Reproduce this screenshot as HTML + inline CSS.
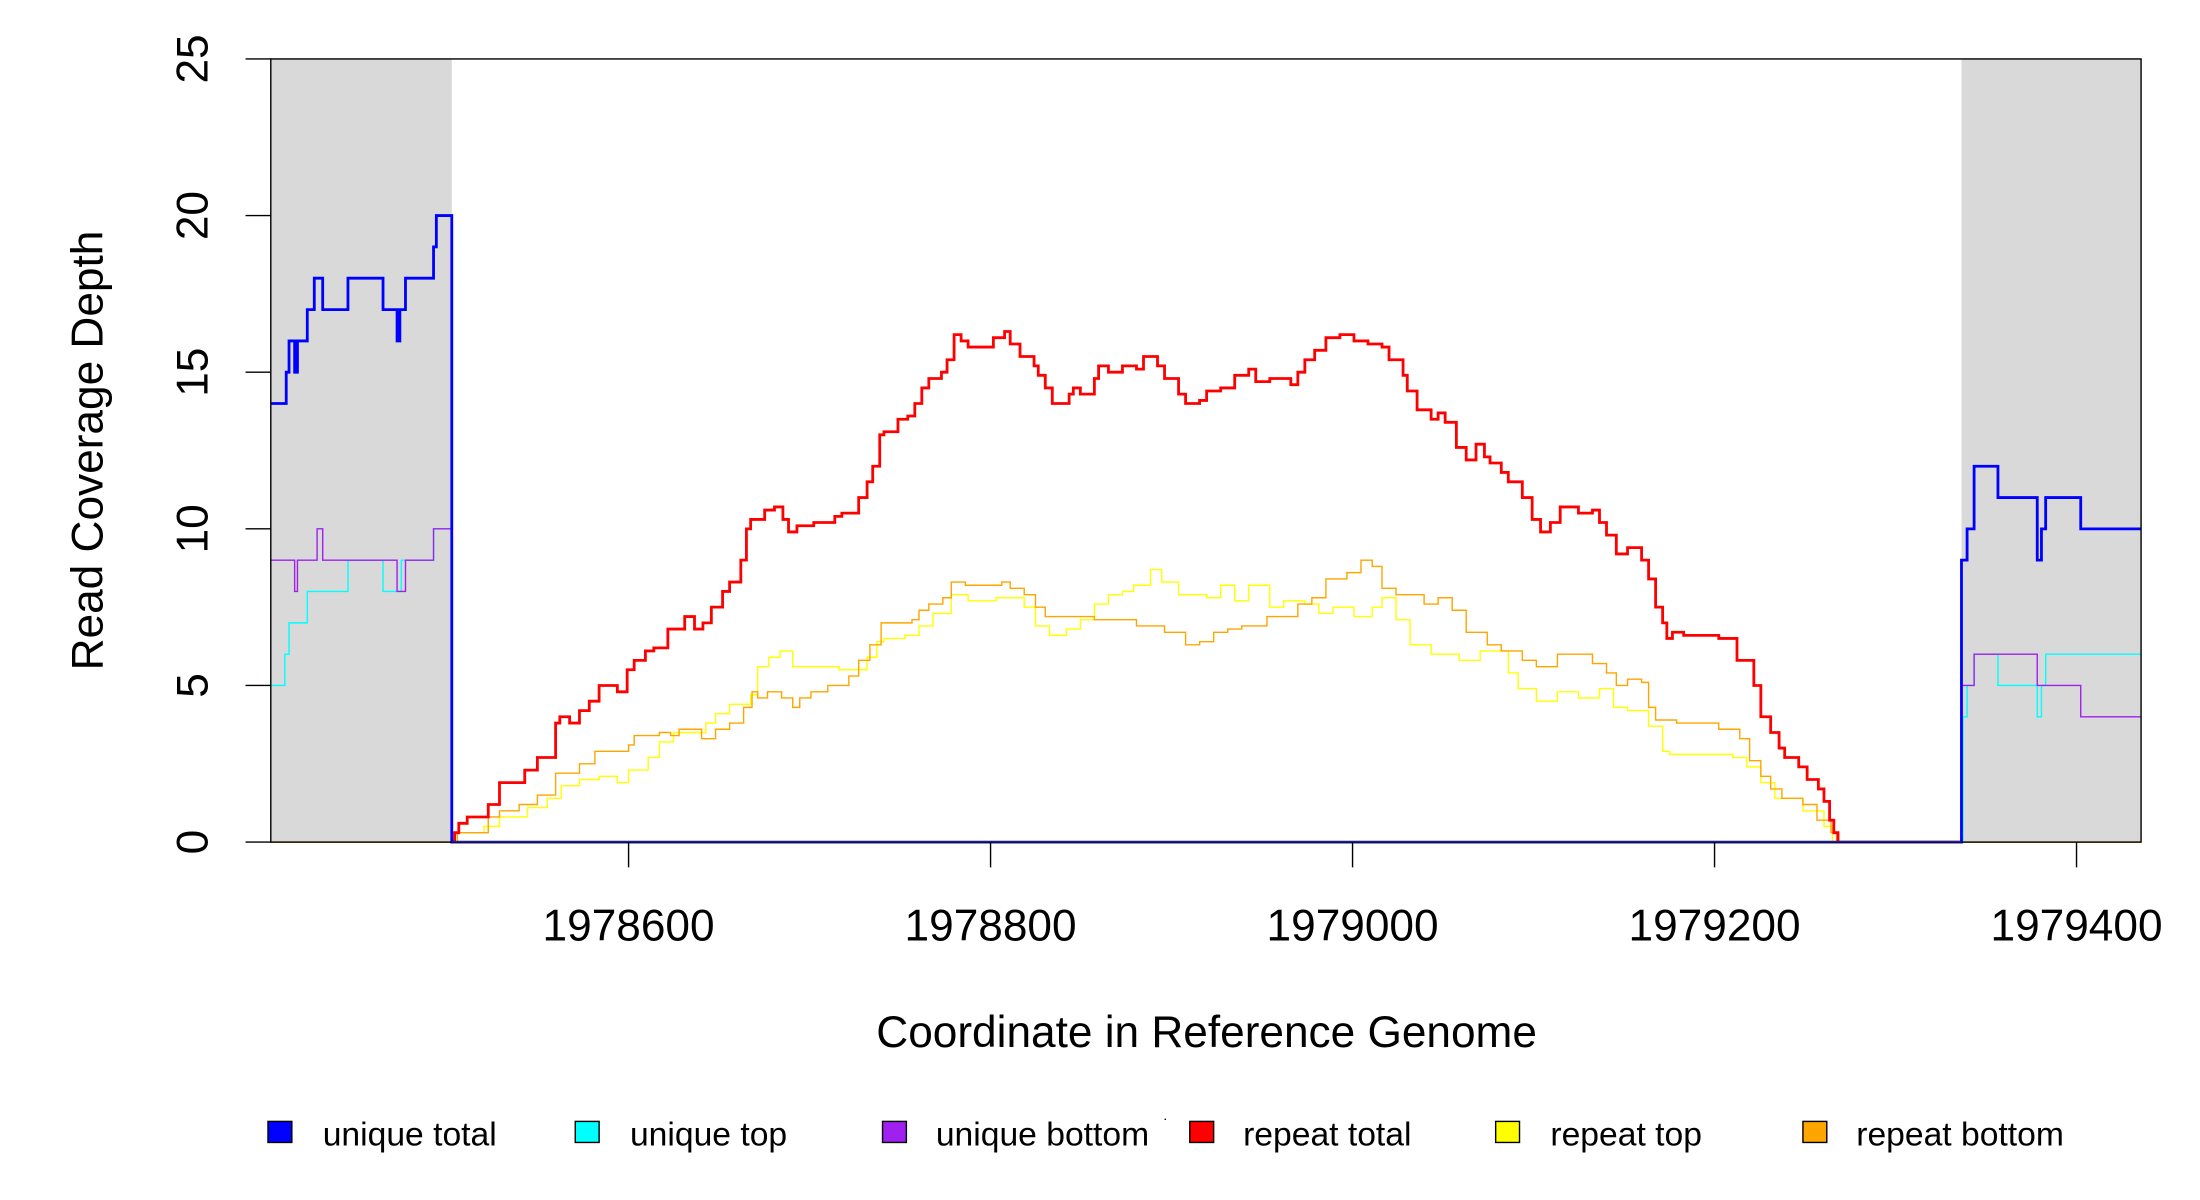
<!DOCTYPE html>
<html><head><meta charset="utf-8"><style>
html,body{margin:0;padding:0;background:#fff;}
svg{display:block;}
text{font-family:"Liberation Sans",Arial,sans-serif;fill:#000;}
</style></head><body>
<svg id="s" width="2200" height="1200" viewBox="0 0 1568 855" preserveAspectRatio="none" xmlns="http://www.w3.org/2000/svg">
<rect x="0" y="0" width="1568" height="855" fill="#fff"/>
<rect x="193" y="42" width="129" height="558" fill="#d9d9d9"/>
<rect x="1398" y="42" width="128" height="558" fill="#d9d9d9"/>
<g id="series"></g>
<rect x="193" y="42" width="1333" height="558" fill="none" stroke="#000" stroke-width="1"/>
<g stroke="#000" stroke-width="1">
<line x1="175" y1="600" x2="193" y2="600"/><line x1="175" y1="488.4" x2="193" y2="488.4"/>
<line x1="175" y1="376.8" x2="193" y2="376.8"/><line x1="175" y1="265.2" x2="193" y2="265.2"/>
<line x1="175" y1="153.6" x2="193" y2="153.6"/><line x1="175" y1="42" x2="193" y2="42"/>
<line x1="448" y1="600" x2="448" y2="618"/><line x1="706" y1="600" x2="706" y2="618"/>
<line x1="964" y1="600" x2="964" y2="618"/><line x1="1222" y1="600" x2="1222" y2="618"/>
<line x1="1480" y1="600" x2="1480" y2="618"/>
</g>
<g font-size="31.5" text-anchor="middle">
<text transform="translate(148,600) rotate(-90)">0</text>
<text transform="translate(148,488.4) rotate(-90)">5</text>
<text transform="translate(148,376.8) rotate(-90)">10</text>
<text transform="translate(148,265.2) rotate(-90)">15</text>
<text transform="translate(148,153.6) rotate(-90)">20</text>
<text transform="translate(148,42) rotate(-90)">25</text>
<text x="448" y="670">1978600</text>
<text x="706" y="670">1978800</text>
<text x="964" y="670">1979000</text>
<text x="1222" y="670">1979200</text>
<text x="1480" y="670">1979400</text>
<text x="860" y="746">Coordinate in Reference Genome</text>
<text transform="translate(73,321) rotate(-90)">Read Coverage Depth</text>
</g>
<g stroke="#000" stroke-width="1">
<rect x="191" y="799" width="17" height="15" fill="#0000ff"/>
<rect x="410" y="799" width="17" height="15" fill="#00ffff"/>
<rect x="629" y="799" width="17" height="15" fill="#a020f0"/>
<rect x="848" y="799" width="17" height="15" fill="#ff0000"/>
<rect x="1066" y="799" width="17" height="15" fill="#ffff00"/>
<rect x="1285" y="799" width="17" height="15" fill="#ffa500"/>
</g>
<g font-size="24">
<text x="230" y="816">unique total</text>
<text x="449" y="816">unique top</text>
<text x="667" y="816">unique bottom</text>
<text x="886" y="816">repeat total</text>
<text x="1105" y="816">repeat top</text>
<text x="1323" y="816">repeat bottom</text>
</g>
<rect x="830" y="797" width="1" height="1" fill="#000"/>
</svg>
<script>
function Y(v){return 600-v*22.32;}
function step(pts){var d="M"+pts[0][0]+","+Y(pts[0][1]).toFixed(1);for(var i=1;i<pts.length;i++){d+="H"+pts[i][0]+"V"+Y(pts[i][1]).toFixed(1);}return d;}
function P(a){var r=[];for(var i=0;i<a.length;i+=2)r.push([a[i],a[i+1]]);return r;}
var g=document.getElementById("series");
function add(d,c,w){var p=document.createElementNS("http://www.w3.org/2000/svg","path");p.setAttribute("d",d);p.setAttribute("fill","none");p.setAttribute("stroke",c);p.setAttribute("stroke-width",w);g.appendChild(p);}
var red=P([322,0,324,0.3,327,0.6,333,0.8,348,1.2,356,1.9,374,2.3,383,2.7,396,3.8,399,4,406,3.8,413,4.2,420,4.5,427,5,440,4.8,447,5.5,452,5.8,460,6.1,466,6.2,476,6.8,488,7.2,495,6.8,501,7,507,7.5,515,8,520,8.3,528,9,532,10,535,10.3,545,10.6,552,10.7,558,10.3,562,9.9,568,10.1,580,10.2,595,10.4,600,10.5,612,11,618,11.5,622,12,627,13,630,13.1,640,13.5,647,13.6,652,14,657,14.5,662,14.8,671,15,675,15.4,680,16.2,685,16,690,15.8,708,16.1,716,16.3,720,15.9,727,15.5,737,15.2,740,14.9,745,14.5,750,14,762,14.3,765,14.5,770,14.3,780,14.8,783,15.2,790,15,800,15.2,810,15.1,815,15.5,825,15.2,830,14.8,840,14.3,845,14,855,14.1,860,14.4,870,14.5,880,14.9,890,15.1,895,14.7,905,14.8,920,14.6,925,15,930,15.4,937,15.7,945,16.1,955,16.2,965,16,975,15.9,985,15.8,990,15.4,1000,14.9,1003,14.4,1010,13.8,1020,13.5,1025,13.7,1030,13.4,1038,12.6,1045,12.2,1052,12.7,1058,12.3,1062,12.1,1070,11.8,1075,11.5,1085,11,1092,10.3,1098,9.9,1105,10.2,1112,10.7,1125,10.5,1135,10.6,1140,10.2,1145,9.8,1152,9.2,1160,9.4,1170,9,1175,8.4,1180,7.5,1185,7,1188,6.5,1192,6.7,1200,6.6,1225,6.5,1238,5.8,1250,5,1255,4,1262,3.5,1268,3,1272,2.7,1282,2.4,1288,2,1296,1.7,1300,1.3,1304,0.7,1307,0.3,1310,0,1398,0]);
var org=P([193,0,322,0,326,0.3,348,0.8,356,1,370,1.2,383,1.5,396,2.2,413,2.5,424,2.9,448,3.1,452,3.4,470,3.5,478,3.4,484,3.6,494,3.6,500,3.3,510,3.6,520,3.8,530,4.3,536,4.8,540,4.6,547,4.8,557,4.6,565,4.3,570,4.6,578,4.8,590,5,605,5.3,612,5.8,620,6.3,628,7,650,7.1,655,7.4,662,7.6,672,7.8,678,8.3,688,8.2,714,8.3,720,8.1,730,7.9,738,7.5,745,7.2,770,7.2,780,7.1,800,7.1,810,6.9,830,6.7,845,6.3,855,6.4,865,6.7,875,6.8,885,6.9,903,7.2,910,7.2,925,7.6,935,7.8,945,8.4,960,8.6,970,9,978,8.8,985,8.1,995,7.9,1015,7.6,1025,7.8,1035,7.4,1045,6.7,1060,6.3,1070,6.1,1085,5.8,1095,5.6,1110,6,1135,5.7,1145,5.4,1152,5,1160,5.2,1170,5.1,1175,4.3,1180,3.9,1195,3.8,1225,3.6,1240,3.3,1247,2.6,1255,2.1,1262,1.7,1270,1.4,1285,1.2,1295,0.7,1305,0.3,1309,0,1526,0]);
var yel=P([322,0,326,0.3,345,0.5,356,0.8,376,1.1,390,1.4,400,1.8,413,2,427,2.1,440,1.9,448,2.3,462,2.7,470,3.2,480,3.5,495,3.5,503,3.8,510,4.1,520,4.4,535,4.7,540,5.6,548,5.9,556,6.1,565,5.6,585,5.6,598,5.5,610,5.5,618,5.9,625,6.4,630,6.5,645,6.6,655,6.9,665,7.3,678,7.9,690,7.7,710,7.8,730,7.5,738,6.9,748,6.6,760,6.8,770,7.1,780,7.6,790,7.9,800,8,808,8.2,820,8.7,828,8.3,840,7.9,860,7.8,870,8.2,880,7.7,890,8.2,905,7.5,915,7.7,930,7.6,940,7.3,950,7.5,965,7.2,978,7.5,985,7.8,995,7.1,1005,6.3,1020,6,1040,5.8,1055,6.1,1075,5.4,1082,4.9,1095,4.5,1110,4.8,1125,4.6,1140,4.9,1150,4.3,1160,4.2,1175,3.7,1185,2.9,1190,2.8,1235,2.7,1245,2.4,1255,1.9,1265,1.4,1285,1,1300,0.5,1306,0]);
var cyan=P([193,5,203,6,206,7,219,8,248,9,273,8,286,9,309,10,322,0,1399,4,1402,5,1407,6,1424,5,1452,4,1455,5,1458,6,1526,6]);
var pur=P([193,9,210,8,212,9,226,10,230,9,283,8,289,9,309,10,322,0,1398,5,1407,6,1452,5,1483,4,1526,4]);
var blue=P([193,14,204,15,206,16,210,15,212,16,219,17,224,18,230,17,248,18,273,17,283,16,285,17,289,18,309,19,311,20,322,20,322,0,1398,0,1398,9,1402,10,1407,12,1424,11,1452,9,1455,10,1458,11,1483,10,1526,10]);
add(step(yel),"#ffff00",1);
add(step(org),"#ffa500",1);
add(step(red),"#ff0000",2);
add(step(cyan),"#00ffff",1);
add(step(pur),"#a020f0",1);
add(step(blue),"#0000ff",2);
add("M322,600H1398","#6a5af0",1.5);
</script>
</body></html>
